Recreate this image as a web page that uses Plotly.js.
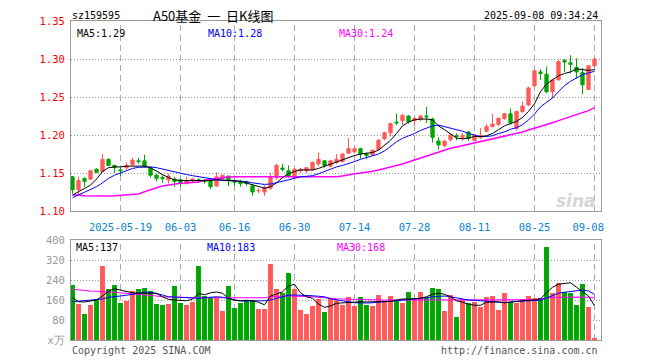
<!DOCTYPE html>
<html><head><meta charset="utf-8">
<script src="https://cdn.plot.ly/plotly-3.0.1.min.js"></script>
<style>html,body{margin:0;padding:0;background:#fff;}#chart{width:660px;height:360px;}</style>
</head><body><div id="chart"></div>
<script>
const dates = ["05-07","05-08","05-09","05-12","05-13","05-14","05-15","05-16","05-19","05-20","05-21","05-22","05-23","05-26","05-27","05-28","05-29","05-30",
"06-03","06-04","06-05","06-06","06-09","06-10","06-11","06-12","06-13","06-16","06-17","06-18","06-19","06-20","06-23","06-24","06-25","06-26","06-27","06-30",
"07-01","07-02","07-03","07-04","07-07","07-08","07-09","07-10","07-11","07-14","07-15","07-16","07-17","07-18","07-21","07-22","07-23","07-24","07-25","07-28","07-29","07-30","07-31",
"08-01","08-04","08-05","08-06","08-07","08-08","08-11","08-12","08-13","08-14","08-15","08-18","08-19","08-20","08-21","08-22","08-25","08-26","08-27","08-28","08-29",
"09-01","09-02","09-03","09-04","09-05","09-08"];

const open = [1.145,1.128,1.143,1.142,1.155,1.152,1.168,1.160,1.154,1.157, 1.161,1.166,1.166,1.157,1.147,1.144,1.141,1.142,1.141,1.136, 1.140,1.141,1.140,1.139,1.133,1.143,1.146,1.139,1.139,1.138, 1.133,1.1265,1.125,1.130,1.144,1.1565,1.153,1.144,1.153,1.153, 1.154,1.162,1.166,1.159,1.164,1.165,1.176,1.178,1.182,1.175, 1.174,1.181,1.195,1.203,1.217,1.219,1.225,1.219,1.2205,1.225, 1.221,1.192,1.186,1.194,1.199,1.197,1.204,1.1925,1.197,1.205, 1.211,1.214,1.2215,1.228,1.209,1.231,1.2395,1.2645,1.283,1.280, 1.257,1.2725,1.298,1.295,1.289,1.282,1.260,1.291];
const high = [1.146,1.145,1.144,1.153,1.156,1.175,1.169,1.161,1.157,1.164, 1.170,1.170,1.174,1.158,1.149,1.147,1.149,1.145,1.143,1.145, 1.143,1.143,1.142,1.141,1.151,1.147,1.146,1.141,1.141,1.140, 1.1355,1.130,1.134,1.150,1.162,1.162,1.160,1.156,1.157,1.158, 1.165,1.177,1.167,1.167,1.175,1.176,1.196,1.185,1.183,1.177, 1.181,1.195,1.204,1.216,1.228,1.228,1.226,1.224,1.226,1.237, 1.223,1.197,1.193,1.2005,1.202,1.203,1.205,1.201,1.209,1.2145, 1.228,1.223,1.229,1.235,1.232,1.244,1.2635,1.2865,1.2865,1.290, 1.273,1.299,1.300,1.305,1.301,1.288,1.292,1.302];
const low = [1.123,1.122,1.132,1.141,1.150,1.151,1.159,1.150,1.146,1.154, 1.159,1.162,1.157,1.144,1.139,1.137,1.136,1.132,1.132,1.135, 1.137,1.137,1.136,1.129,1.132,1.141,1.133,1.133,1.132,1.133, 1.120,1.123,1.120,1.128,1.141,1.152,1.144,1.144,1.150,1.150, 1.153,1.159,1.157,1.158,1.162,1.164,1.175,1.176,1.169,1.168, 1.173,1.180,1.193,1.198,1.213,1.213,1.215,1.213,1.218,1.216, 1.190,1.181,1.184,1.191,1.193,1.1925,1.1925,1.192,1.195,1.204, 1.210,1.212,1.220,1.2135,1.206,1.229,1.238,1.264,1.2725,1.255, 1.248,1.272,1.283,1.281,1.2745,1.254,1.2595,1.290];
const close = [1.128,1.140,1.139,1.153,1.151,1.168,1.160,1.157,1.153,1.160, 1.167,1.165,1.159,1.147,1.143,1.143,1.146,1.139,1.136,1.140, 1.142,1.140,1.139,1.132,1.145,1.147,1.141,1.138,1.136,1.136, 1.125,1.127,1.131,1.144,1.160,1.155,1.146,1.155,1.155,1.157, 1.164,1.168,1.160,1.166,1.168,1.175,1.182,1.182,1.175,1.173, 1.180,1.193,1.203,1.215,1.216,1.226,1.2175,1.222,1.225,1.224, 1.197,1.187,1.192,1.200,1.198,1.199,1.1955,1.200,1.199,1.211, 1.2145,1.222,1.228,1.216,1.231,1.238,1.262,1.2845,1.281,1.257, 1.2725,1.2965,1.296,1.293,1.283,1.266,1.291,1.300];

const ma5 = [1.121,1.125,1.129,1.134,1.142,1.152,1.157,1.158,1.158,1.159, 1.159,1.159,1.159,1.157,1.152,1.148,1.144,1.141,1.140,1.140, 1.140,1.140,1.140,1.140,1.141,1.141,1.140,1.140,1.139,1.137, 1.134,1.132,1.130,1.132,1.137,1.144,1.149,1.152,1.154,1.154, 1.154,1.156,1.159,1.162,1.164,1.167,1.170,1.173,1.175,1.176, 1.177,1.180,1.186,1.193,1.202,1.212,1.217,1.220,1.221,1.221, 1.220,1.212,1.207,1.202,1.196,1.195,1.196,1.198,1.198,1.199, 1.202,1.207,1.212,1.215,1.218,1.223,1.231,1.241,1.257,1.267, 1.272,1.278,1.281,1.283,1.287,1.286,1.285,1.286];
const ma10 = [1.1175,1.121,1.124,1.128,1.132,1.137,1.143,1.147,1.150,1.1535, 1.156,1.1575,1.158,1.158,1.157,1.155,1.1535,1.151,1.1496,1.148, 1.1465,1.145,1.144,1.1425,1.141,1.140,1.140,1.1395,1.139,1.1386, 1.137,1.1355,1.135,1.1355,1.137,1.139,1.141,1.143,1.145,1.1456, 1.1465,1.149,1.152,1.156,1.158,1.160,1.162,1.165,1.168,1.170, 1.172,1.175,1.179,1.1855,1.191,1.1956,1.1987,1.202,1.206,1.209, 1.212,1.213,1.211,1.210,1.208,1.205,1.202,1.1996,1.198,1.198, 1.199,1.202,1.204,1.2075,1.2096,1.2136,1.2197,1.2276,1.237,1.243, 1.2487,1.257,1.265,1.2706,1.2754,1.2794,1.2816,1.2838];
const ma30 = [1.121,1.121,1.120,1.1197,1.1197,1.1197,1.1197,1.120,1.1206,1.1206, 1.121,1.1224,1.1254,1.1285,1.1307,1.1329,1.1342,1.1355,1.1364,1.1368, 1.1373,1.1382,1.1404,1.1417,1.143,1.1443,1.1447,1.1452,1.1452,1.1452, 1.1452,1.1452,1.1452,1.1447,1.1443,1.1443,1.1443,1.1443,1.1443,1.1443, 1.1443,1.1443,1.1447,1.1447,1.1452,1.1461,1.1478,1.1491,1.150,1.1509, 1.1522,1.1539,1.1557,1.1579,1.1596,1.1618,1.1645,1.1671,1.1697,1.1724, 1.175,1.1776,1.1807,1.1825,1.1842,1.186,1.1877,1.1895,1.1912,1.193, 1.1947,1.1965,1.1982,1.200,1.2018,1.2039,1.2066,1.2088,1.2114,1.214, 1.2162,1.2189,1.2215,1.2246,1.2276,1.2303,1.232,1.236];

const volume = [220,144,104,140,164,296,204,220,148,156, 196,204,208,196,144,140,144,216,148,140, 152,296,176,168,168,116,216,128,148,156, 160,124,124,304,204,188,268,204,120,104, 136,164,112,168,160,140,172,136,172,140, 136,180,156,176,156,148,192,164,192,172, 208,204,116,180,92,164,148,152,132,172, 176,120,188,152,148,164,176,168,168,372, 188,228,192,188,140,224,132,8];
const volMa5 = [169,153,152,155,160,176,195,205,200,193, 189,187,188,189,187,173,163,160,157,157, 163,187,181,189,192,187,167,159,157,159, 157,151,141,176,184,193,216,223,189,173, 167,144,131,136,147,149,149,152,153,152, 152,152,155,155,160,164,164,165,167,173, 183,187,183,173,157,151,143,139,139,151, 153,153,149,152,155,157,159,160,165,189, 211,223,227,229,211,193,176,137];
const volMa10 = [153,155,156,157,159,164,171,175,176,179, 183,187,191,191,187,180,173,171,169,168, 168,167,169,172,173,171,167,161,156,156, 156,155,157,160,167,173,179,180,180,179, 177,175,173,165,160,156,153,149,147,148, 149,152,153,155,157,159,161,164,167,169, 173,175,176,173,168,164,160,159,157,155, 152,148,149,152,155,156,157,157,159,168, 179,187,191,193,197,200,196,183];
const volMa30 = [203,200,197,196,195,192,192,191,189,188, 187,184,181,179,176,173,172,171,169,169, 169,169,169,169,169,169,169,169,169,169, 169,169,169,173,176,176,176,176,176,176, 173,171,168,167,165,164,163,163,161,160, 160,160,160,160,160,160,160,160,160,160, 159,159,159,159,159,159,159,159,159,159, 159,159,159,159,159,159,160,161,164,169, 171,171,172,173,173,172,171,168];

const tickDates = ["05-19","06-03","06-16","06-30","07-14","07-28","08-11","08-25","09-08"];
const tickLabels = ["2025-05-19","06-03","06-16","06-30","07-14","07-28","08-11","08-25","09-08\u00a0\u00a0"];
const priceTicks = [1.10,1.15,1.20,1.25,1.30,1.35];
const volTicks = [0,80,160,240,320,400];
const volTickText = ["x万","80","160","240","320","400"];

const RED = '#ff5a5a', GREEN = '#00a600';
const MONO = 'DejaVu Sans Mono, monospace';
const volColors = close.map((c,i)=> c >= open[i] ? RED : GREEN);

const traces = [
  {type:'candlestick', x:dates, open:open, high:high, low:low, close:close, xaxis:'x', yaxis:'y',
   increasing:{line:{color:RED,width:1}, fillcolor:RED},
   decreasing:{line:{color:GREEN,width:1}, fillcolor:GREEN}, whiskerwidth:0, hoverinfo:'skip'},
  {type:'scatter', mode:'lines', x:dates, y:ma30, line:{color:'#ff00ff',width:1.5}, xaxis:'x', yaxis:'y'},
  {type:'scatter', mode:'lines', x:dates, y:ma10, line:{color:'#0000ff',width:1}, xaxis:'x', yaxis:'y'},
  {type:'scatter', mode:'lines', x:dates, y:ma5, line:{color:'#000000',width:1}, xaxis:'x', yaxis:'y'},
  {type:'bar', x:dates, y:volume, marker:{color:volColors, line:{width:0}}, width:0.82, xaxis:'x2', yaxis:'y2'},
  {type:'scatter', mode:'lines', x:dates, y:volMa30, line:{color:'#ff00ff',width:1.2}, xaxis:'x2', yaxis:'y2'},
  {type:'scatter', mode:'lines', x:dates, y:volMa10, line:{color:'#0000ff',width:1}, xaxis:'x2', yaxis:'y2'},
  {type:'scatter', mode:'lines', x:dates, y:volMa5, line:{color:'#000000',width:1}, xaxis:'x2', yaxis:'y2'}
];

const xDom = [71/660, 600.5/660];
const baseX = {domain:xDom, type:'category', range:[-0.25,88], showgrid:false,
  showline:true, mirror:true, linecolor:'#999999', linewidth:1, ticks:'', zeroline:false, fixedrange:true, tickvals:tickDates};

// vertical dashed grid lines at the labelled dates, placed through the category axes
const gridShapes = [];
tickDates.forEach(d => {
  [['x','y domain'],['x2','y2 domain']].forEach(([xr, yr]) => {
    gridShapes.push({type:'line', xref:xr, yref:yr, x0:d, x1:d, y0:0, y1:1, layer:'below',
      line:{color:'#aaaaaa', width:1, dash:'6px,4px'}});
  });
});

const last = a => a[a.length-1];
const ann = (x, ypx, text, color, anchor, size, family) => ({xref:'paper', yref:'paper', x:x/660, y:1-ypx/360, text:text, showarrow:false,
  xanchor:anchor||'left', yanchor:'middle', font:{family:family||MONO, size:size||10, color:color}});

const layout = {
  width:660, height:360, margin:{l:0,r:0,t:0,b:0}, paper_bgcolor:'#ffffff', plot_bgcolor:'#ffffff',
  showlegend:false, boxgap:0.22, bargap:0.18, hovermode:false,
  xaxis:Object.assign({}, baseX, {anchor:'y', ticktext:tickLabels, showticklabels:true, ticklabelstandoff:6,
     tickfont:{family:MONO, size:10.5, color:'#0a84d6'}, rangeslider:{visible:false}}),
  yaxis:{domain:[1-211/360, 1-21/360], range:[1.10,1.35], anchor:'x', tickvals:priceTicks, ticktext:priceTicks.map(v=>v.toFixed(2)),
     tickfont:{family:MONO, size:10.5, color:'#ff0000'}, showgrid:true, griddash:'1px,2px', gridcolor:'#999999',
     showline:true, mirror:true, linecolor:'#999999', ticks:'', zeroline:false, fixedrange:true, ticklabelstandoff:3},
  xaxis2:Object.assign({}, baseX, {anchor:'y2', matches:'x', showticklabels:false, ticktext:tickLabels}),
  yaxis2:{domain:[1-340/360, 1-240/360], range:[0,400], anchor:'x2', tickvals:volTicks, ticktext:volTickText,
     tickfont:{family:MONO, size:10.5, color:'#999999'}, showgrid:true, griddash:'1px,2px', gridcolor:'#999999',
     showline:true, mirror:true, linecolor:'#999999', ticks:'', zeroline:false, fixedrange:true, ticklabelstandoff:3},
  shapes:gridShapes,
  annotations:[
    ann(70, 16, 'sz159595', '#000000'),
    ann(151, 16, 'A50基金\u00a0 一 \u00a0日K线图', '#000000', 'left', 13, 'Noto Sans CJK SC'),
    ann(600, 16, '2025-09-08 09:34:24', '#000000', 'right'),
    ann(75, 33, 'MA5:' + last(ma5).toFixed(2), '#000000'),
    ann(206, 33, 'MA10:' + last(ma10).toFixed(2), '#0000ff'),
    ann(337, 33, 'MA30:' + last(ma30).toFixed(2), '#ff00ff'),
    ann(74, 247, 'MA5:' + last(volMa5), '#000000'),
    ann(205, 247, 'MA10:' + last(volMa10), '#0000ff'),
    ann(335, 247, 'MA30:' + last(volMa30), '#ff00ff'),
    ann(70, 350, 'Copyright 2025 SINA.COM', '#555555'),
    ann(600, 350, 'http://finance.sina.com.cn', '#555555', 'right'),
    {xref:'paper', yref:'paper', x:598/660, y:1-201/360, text:'<b><i>sina</i></b>', showarrow:false, xanchor:'right', yanchor:'middle',
     font:{family:'DejaVu Sans', size:17, color:'#d6d6d6'}}
  ]
};

Plotly.newPlot('chart', traces, layout, {staticPlot:true, displayModeBar:false});
</script>
</body></html>
